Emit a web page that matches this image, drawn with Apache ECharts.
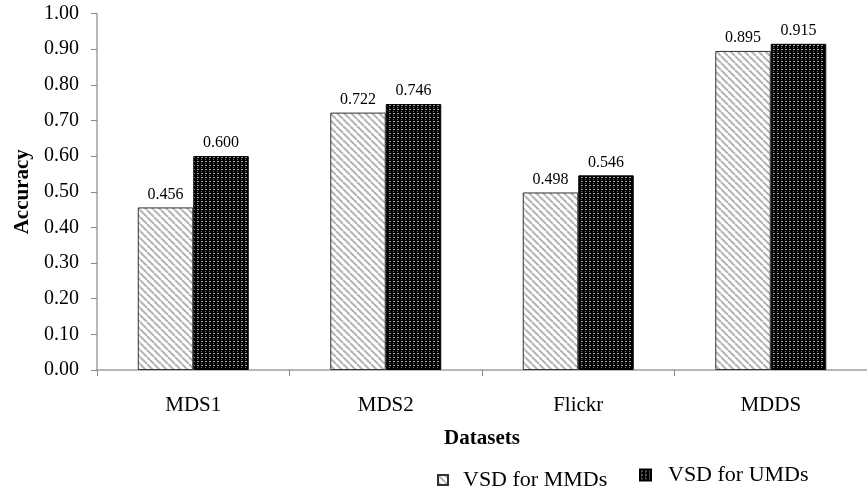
<!DOCTYPE html>
<html>
<head>
<meta charset="utf-8">
<script src="https://cdn.jsdelivr.net/npm/echarts@6/dist/echarts.min.js"></script>
<style>html,body{margin:0;padding:0;background:#fff}#c{width:867px;height:494px}</style>
</head>
<body>
<div id="c"></div>
<script>
var categories = ['MDS1', 'MDS2', 'Flickr', 'MDDS'];
var mmdValues = [0.456, 0.722, 0.498, 0.895];
var umdValues = [0.600, 0.746, 0.546, 0.915];
var seriesNames = ['VSD for MMDs', 'VSD for UMDs'];
var yTicks = { min: 0, max: 1, interval: 0.1 };

function hatchPattern() {
  var c = document.createElement('canvas');
  c.width = 7; c.height = 7;
  var g = c.getContext('2d');
  g.fillStyle = '#fff'; g.fillRect(0, 0, 7, 7);
  g.strokeStyle = '#b4b4b4'; g.lineWidth = 2;
  for (var k = -1; k <= 1; k++) {
    g.beginPath(); g.moveTo(k * 7, 0); g.lineTo(k * 7 + 7, 7); g.stroke();
  }
  return { image: c, repeat: 'repeat' };
}
function dotPattern() {
  var c = document.createElement('canvas');
  c.width = 4; c.height = 4;
  var g = c.getContext('2d');
  g.fillStyle = '#000'; g.fillRect(0, 0, 4, 4);
  g.fillStyle = '#a0a0a0'; g.fillRect(1, 1, 2, 1);
  g.fillStyle = '#707070'; g.fillRect(1, 3, 1, 1);
  return { image: c, repeat: 'repeat' };
}

var font = "'Liberation Serif', 'Times New Roman', serif";
var chart = echarts.init(document.getElementById('c'));
chart.setOption({
  animation: false,
  textStyle: { fontFamily: font },
  grid: { left: 97, right: -6, top: 13.5, bottom: 124 },
  legend: [
    { top: 464, left: 432, itemWidth: 10, itemHeight: 10, icon: 'rect',
      textStyle: { fontFamily: font, fontSize: 22, color: '#000', padding: [0, 0, 10, 10] },
      data: [seriesNames[0]] },
    { top: 459, left: 634, itemWidth: 11, itemHeight: 11, icon: 'rect',
      textStyle: { fontFamily: font, fontSize: 22, color: '#000', padding: [0, 0, 10, 12] },
      data: [seriesNames[1]] }
  ],
  xAxis: {
    type: 'category', data: categories,
    name: 'Datasets', nameLocation: 'middle', nameGap: 58,
    nameTextStyle: { fontFamily: font, fontSize: 21, fontWeight: 'bold', color: '#000' },
    axisLine: { lineStyle: { color: '#a0a0a0', width: 1.5 } },
    axisTick: { show: true, length: 6, lineStyle: { color: '#888' } },
    axisLabel: { fontFamily: font, fontSize: 21, color: '#000', margin: 25 }
  },
  yAxis: {
    type: 'value', min: yTicks.min, max: yTicks.max, interval: yTicks.interval,
    name: 'Accuracy', nameLocation: 'middle', nameGap: 60, nameRotate: 90,
    nameTextStyle: { fontFamily: font, fontSize: 21, fontWeight: 'bold', color: '#000' },
    axisLine: { show: true, lineStyle: { color: '#a0a0a0', width: 1.5 } },
    axisTick: { show: true, length: 6, lineStyle: { color: '#888' } },
    splitLine: { show: false },
    axisLabel: { fontFamily: font, fontSize: 20, color: '#000', margin: 18,
      formatter: function (v) { return v.toFixed(2); } }
  },
  series: [
    {
      name: seriesNames[0], type: 'bar', data: mmdValues,
      barWidth: 55.5, barGap: '0%',
      itemStyle: { color: hatchPattern(), borderColor: '#333', borderWidth: 1 },
      label: { show: true, position: 'top', distance: 5, fontFamily: font, fontSize: 16, color: '#000',
        formatter: function (p) { return p.value.toFixed(3); } }
    },
    {
      name: seriesNames[1], type: 'bar', data: umdValues,
      barWidth: 55.5, barGap: '0%',
      itemStyle: { color: dotPattern(), borderColor: '#000', borderWidth: 1 },
      label: { show: true, position: 'top', distance: 5, fontFamily: font, fontSize: 16, color: '#000',
        formatter: function (p) { return p.value.toFixed(3); } }
    }
  ]
});
</script>
</body>
</html>
